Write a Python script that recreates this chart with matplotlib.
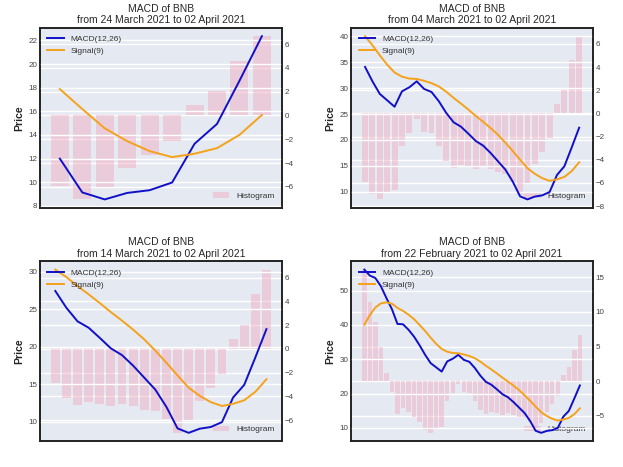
import numpy as np
import matplotlib
matplotlib.use("Agg")
import matplotlib.pyplot as plt
from matplotlib.ticker import MaxNLocator

plt.rcParams['font.family'] = ['Liberation Sans', 'DejaVu Sans']

# daily MACD / signal values, 22 Feb 2021 .. 02 April 2021 (40 days)
macd = [56.15, 54.4, 53.7, 51.3, 47.85, 44.6, 40.3, 40.2, 38.6, 36.6,
        34.08, 31.3, 28.87, 27.64, 26.4, 29.37, 30.15, 31.3, 29.83, 29.25,
        27.45, 25.2, 23.4, 22.55, 21.2, 19.8, 18.9, 17.5, 15.9, 14.3,
        11.99, 9.13, 8.54, 9.09, 9.32, 9.97, 13.25, 14.93, 18.58, 22.36]
signal = [40.05, 42.9, 45.1, 46.3, 46.6, 46.2, 45.0, 44.1, 43.0, 41.7,
          40.0, 38.26, 36.3, 34.5, 33.0, 32.2, 31.83, 31.75, 31.4, 30.95,
          30.3, 29.3, 28.1, 27.0, 25.84, 24.63, 23.5, 22.3, 21.0, 19.5,
          17.88, 16.19, 14.56, 13.47, 12.63, 12.12, 12.41, 12.88, 14.0, 15.69]

panelDays = [10, 30, 20, 40]
panelStarts = ["24 March 2021", "04 March 2021", "14 March 2021", "22 February 2021"]
endDate = "02 April 2021"

bgColor = "#E5E9F1"
spineColor = "#222222"

fig, axes = plt.subplots(2, 2, figsize=(6.23, 4.67), dpi=100)
fig.subplots_adjust(left=0.064, right=0.952, top=0.940, bottom=0.0557,
                    wspace=0.286, hspace=0.30)

for ax, nDays, start in zip(axes.flat, panelDays, panelStarts):
    m = np.array(macd[-nDays:])
    s = np.array(signal[-nDays:])
    hist = m - s
    x = np.arange(nDays)

    ax2 = ax.twinx()
    ax2.patch.set_visible(True)
    ax2.set_facecolor(bgColor)
    ax2.bar(x, hist, width=0.8, color="#F2A7BC", alpha=0.45, label="Histogram")
    ax.plot(x, m, color="#1010C8", lw=1.4, label="MACD(12,26)")
    ax.plot(x, s, color="#F5A21B", lw=1.4, label="Signal(9)")

    # lines on top of the bars
    ax.set_zorder(ax2.get_zorder() + 1)
    ax.patch.set_visible(False)

    for a in (ax, ax2):
        a.grid(axis="y", color="white", lw=1.0)
        a.grid(axis="x", visible=False)
        a.set_axisbelow(True)
        a.yaxis.set_major_locator(MaxNLocator(nbins=8, steps=[1, 2, 5, 10]))
        a.tick_params(axis="y", length=0, labelsize=5.8, colors="#444444", pad=2)
        a.set_xticks([])
        for sp in a.spines.values():
            sp.set_color(spineColor)
            sp.set_linewidth(1.2)

    ax.set_title("MACD of BNB\nfrom %s to %s" % (start, endDate), fontsize=7.5,
                 color="#262626", pad=3.5)
    ax.set_ylabel("Price", fontsize=7.5, fontweight="bold", color="#262626", labelpad=3)
    ax.legend(loc="upper left", frameon=False, fontsize=6, labelcolor="#333333")
    ax2.legend(loc="lower right", frameon=False, fontsize=6, labelcolor="#333333")

fig.savefig("out.png", dpi=100, facecolor="white")
